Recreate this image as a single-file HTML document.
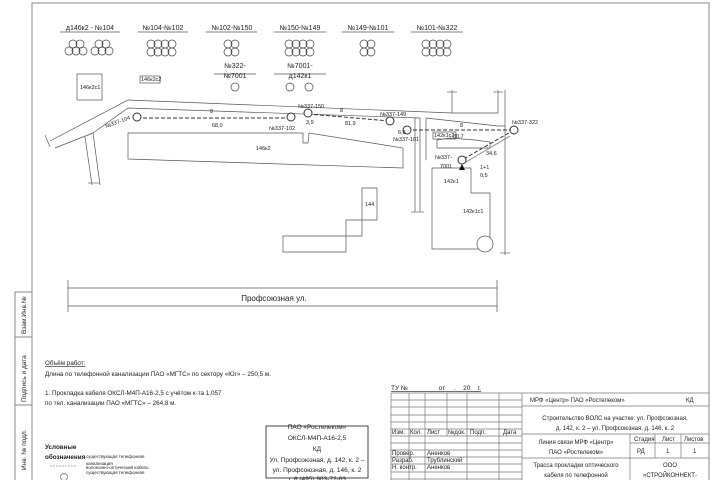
<!DOCTYPE html>
<html><head><meta charset="utf-8"><style>
html,body{margin:0;padding:0;background:#fff}
svg{display:block}
text{font-family:"Liberation Sans",sans-serif;fill:#222}
</style></head><body>
<svg width="720" height="480" viewBox="0 0 720 480" xmlns="http://www.w3.org/2000/svg">
<g stroke="#888" stroke-width="1" fill="none">
<!-- frame -->
<polyline points="32,480 32,3 709,3 709,480"/>
<polyline points="32,292 15,292 15,480"/>
<line x1="15" y1="337" x2="32" y2="337"/>
<line x1="15" y1="405" x2="32" y2="405"/>
</g>
<g font-size="6.5" fill="#333">
<text transform="translate(26,334) rotate(-90)">Взам.Инв.№</text>
<text transform="translate(26,402) rotate(-90)">Подпись и дата</text>
<text transform="translate(26,470) rotate(-90)">Инв. № подл.</text>
</g>

<!-- top labels -->
<g font-size="7" text-anchor="middle">
<text x="90" y="30">д146к2 - №104</text>
<text x="163" y="30">№104-№102</text>
<text x="232" y="30">№102-№150</text>
<text x="300" y="30">№150-№149</text>
<text x="368" y="30">№149-№101</text>
<text x="437" y="30">№101-№322</text>
<text x="235" y="68">№322-</text><text x="235" y="78">№7001</text>
<text x="300" y="68">№7001-</text><text x="300" y="78">д142к1</text>
</g>
<g stroke="#555" stroke-width="0.7" fill="none">
<line x1="60" y1="32" x2="120" y2="32"/><line x1="138" y1="32" x2="188" y2="32"/>
<line x1="206" y1="32" x2="257" y2="32"/><line x1="274" y1="32" x2="326" y2="32"/>
<line x1="342" y1="32" x2="394" y2="32"/><line x1="411" y1="32" x2="463" y2="32"/>
<line x1="214" y1="74" x2="256" y2="74"/><line x1="274" y1="74" x2="326" y2="74"/>
<!-- circle groups -->
<g stroke="#444">
<circle cx="73" cy="44" r="4"/><circle cx="80" cy="44" r="4"/><circle cx="69" cy="51" r="4"/><circle cx="76" cy="51" r="4"/><circle cx="83" cy="51" r="4"/>
<circle cx="99" cy="44" r="4"/><circle cx="106" cy="44" r="4"/><circle cx="95" cy="51" r="4"/><circle cx="102" cy="51" r="4"/><circle cx="109" cy="51" r="4"/>
<circle cx="151" cy="44" r="4"/><circle cx="158" cy="44" r="4"/><circle cx="165" cy="44" r="4"/><circle cx="172" cy="44" r="4"/>
<circle cx="151" cy="52" r="4"/><circle cx="158" cy="52" r="4"/><circle cx="165" cy="52" r="4"/><circle cx="172" cy="52" r="4"/>
<circle cx="228" cy="44" r="4"/><circle cx="235" cy="44" r="4"/><circle cx="228" cy="52" r="4"/><circle cx="235" cy="52" r="4"/>
<circle cx="289" cy="44" r="4"/><circle cx="296" cy="44" r="4"/><circle cx="303" cy="44" r="4"/><circle cx="310" cy="44" r="4"/>
<circle cx="289" cy="52" r="4"/><circle cx="296" cy="52" r="4"/><circle cx="303" cy="52" r="4"/><circle cx="310" cy="52" r="4"/>
<circle cx="364" cy="44" r="4"/><circle cx="371" cy="44" r="4"/><circle cx="364" cy="52" r="4"/><circle cx="371" cy="52" r="4"/>
<circle cx="426" cy="44" r="4"/><circle cx="433" cy="44" r="4"/><circle cx="440" cy="44" r="4"/><circle cx="447" cy="44" r="4"/>
<circle cx="426" cy="52" r="4"/><circle cx="433" cy="52" r="4"/><circle cx="440" cy="52" r="4"/><circle cx="447" cy="52" r="4"/>
<circle cx="235" cy="87" r="4"/><circle cx="290" cy="87" r="4"/><circle cx="309" cy="87" r="4"/>
</g>
<rect x="77" y="74" width="25" height="26"/>
<rect x="140" y="76" width="20" height="7"/>

<!-- roads -->
<polyline points="50,141 128,100 452,113 452,90"/>
<polyline points="498,90 498,113 452,113"/>
<polyline points="55,148 93,133"/>
<polyline points="85,137 92,185"/>
<polyline points="93,133 100,185"/>
<polyline points="93,133 128,108 420,118 420,212"/>
<polyline points="415,118 415,212"/>
<polyline points="426,118 498,126 505,126"/>
<line x1="505" y1="90" x2="505" y2="255"/>
<line x1="426" y1="118" x2="426" y2="160"/>
<!-- ticks -->
<g stroke="#666"><line x1="45" y1="135" x2="50" y2="147"/><line x1="88" y1="183" x2="100" y2="183"/><line x1="411" y1="212" x2="424" y2="212"/>
<line x1="447" y1="92" x2="457" y2="92"/><line x1="493" y1="92" x2="503" y2="92"/><line x1="500" y1="253" x2="510" y2="253"/></g>
<!-- building 146k2 -->
<polygon points="128,133 303,133 303,143 308,143 309,133 403,148 403,168 128,159"/>
<!-- 142k1c2 bar -->
<polygon points="437,140 450,138 475,140 490,142 490,148 437,148"/>
<rect x="433" y="132" width="23" height="7"/>
<!-- 142k1 -->
<polygon points="432,168 471,168 471,193 490,193 490,249 432,249"/>
<circle cx="485" cy="244" r="8" fill="#fff"/>
<!-- 144 -->
<polygon points="362,188 377,188 377,220 362,220 362,236 346,236 346,252 283,252 283,236 346,236 346,220 362,220"/>
<!-- street -->
<line x1="68" y1="288" x2="497" y2="288"/>
<line x1="68" y1="306" x2="497" y2="306"/>
<line x1="68" y1="280" x2="68" y2="312"/>
<line x1="497" y1="280" x2="497" y2="312"/>
</g>
<!-- cable -->
<g stroke="#333" stroke-width="1" fill="none">
<polyline stroke-dasharray="4,2" points="137,118 291,118"/>
<polyline stroke-dasharray="4,2" points="308,114 390,121"/>
<polyline stroke-dasharray="4,2" points="407,130 514,130"/>
<polyline stroke-dasharray="4,2" points="514,130 462,160"/>
<line x1="510" y1="136" x2="466" y2="162" stroke="#888"/>
<g fill="#fff"><circle cx="137" cy="117" r="4"/><circle cx="291" cy="117" r="4"/><circle cx="308" cy="113" r="4"/><circle cx="390" cy="121" r="4"/><circle cx="407" cy="130" r="4"/><circle cx="514" cy="130" r="4"/><circle cx="462" cy="160" r="4"/></g>
</g>
<polygon points="459,170 465,170 462,164" fill="#111"/>
<g font-size="5.5">
<text x="106" y="128" transform="rotate(-20 106 128)">№337-104</text>
<text x="269" y="130">№337-102</text>
<text x="298" y="108">№337-150</text>
<text x="380" y="116">№337-149</text>
<text x="393" y="141">№337-101</text>
<text x="512" y="124">№337-322</text>
<text x="435" y="159">№337-</text><text x="440" y="168">7001</text>
<text x="212" y="127">68,0</text><text x="345" y="125">81,9</text>
<text x="306" y="124">3,9</text><text x="398" y="134">6,8</text>
<text x="453" y="138">80,7</text><text x="486" y="155">34,6</text>
<text x="210" y="113">8</text><text x="340" y="112">8</text><text x="460" y="127">8</text>
<text x="480" y="169">1+1</text><text x="480" y="177">0,5</text>
<text x="80" y="89">146к2с1</text><text x="141" y="81">146к2с2</text>
<text x="256" y="150">146к2</text><text x="434" y="137">142к1с2</text>
<text x="444" y="183">142к1</text><text x="463" y="213">142к1с1</text>
<text x="365" y="206">144</text>
</g>
<text x="274" y="301" font-size="8" text-anchor="middle">Профсоюзная ул.</text>

<!-- notes -->
<g font-size="6.3">
<text x="45" y="365" text-decoration="underline">Объём работ:</text>
<text x="45" y="376">Длина по телефонной канализации ПАО «МГТС» по сектору «Юг»       – 250,5 м.</text>
<text x="45" y="395">1. Прокладка кабеля ОКСЛ-М4П-А16-2,5 с учётом к-та 1,057</text>
<text x="45" y="405">по тел. канализации ПАО «МГТС»       – 264,8 м.</text>
<text x="45" y="449" font-weight="bold">Условные</text>
<text x="45" y="459" font-weight="bold">обозначения</text>
</g>
<g font-size="4.5"><text x="86" y="458">существующая телефонная</text><text x="86" y="465">канализация</text><text x="86" y="469">волоконно-оптический кабель</text><text x="86" y="474">существующая телефонная</text></g>
<line x1="50" y1="466" x2="76" y2="466" stroke="#666" stroke-dasharray="2,1" stroke-width="0.6"/>
<circle cx="64" cy="477" r="3.5" fill="none" stroke="#666" stroke-width="0.7"/>
<!-- stamp -->
<rect x="266" y="426" width="102" height="52" fill="none" stroke="#444" stroke-width="1"/>
<g font-size="6.5" text-anchor="middle">
<text x="317" y="429">ПАО «Ростелеком»</text>
<text x="317" y="440">ОКСЛ-М4П-А16-2,5</text>
<text x="317" y="451">КД</text>
<text x="317" y="462">Ул. Профсоюзная, д. 142, к. 2 –</text>
<text x="317" y="472">ул. Профсоюзная, д. 146, к. 2</text>
<text x="317" y="481">т. 8 (495) 903-72-63</text>
</g>

<!-- title block -->
<g font-size="6.5">
<text x="391" y="390" text-decoration="underline">ТУ №________ от __.__20__г.</text>
</g>
<g stroke="#777" stroke-width="0.7" fill="none">
<line x1="391" y1="393" x2="709" y2="393"/>
<line x1="391" y1="400" x2="522" y2="400"/><line x1="391" y1="407" x2="522" y2="407"/>
<line x1="391" y1="415" x2="522" y2="415"/><line x1="391" y1="422" x2="522" y2="422"/>
<line x1="391" y1="429" x2="522" y2="429"/><line x1="391" y1="436" x2="522" y2="436"/>
<line x1="391" y1="443" x2="522" y2="443"/><line x1="391" y1="450" x2="522" y2="450"/>
<line x1="391" y1="457" x2="522" y2="457"/><line x1="391" y1="464" x2="522" y2="464"/>
<line x1="391" y1="472" x2="522" y2="472"/><line x1="391" y1="479" x2="522" y2="479"/>
<line x1="391" y1="393" x2="391" y2="480"/><line x1="409" y1="393" x2="409" y2="480"/>
<line x1="425" y1="393" x2="425" y2="480"/><line x1="447" y1="393" x2="447" y2="436"/>
<line x1="467" y1="393" x2="467" y2="480"/><line x1="499" y1="393" x2="499" y2="480"/>
<line x1="522" y1="393" x2="522" y2="480"/>
<line x1="522" y1="406" x2="709" y2="406"/><line x1="522" y1="434" x2="709" y2="434"/>
<line x1="522" y1="458" x2="709" y2="458"/>
<line x1="630" y1="434" x2="630" y2="480"/>
<line x1="630" y1="443" x2="709" y2="443"/>
<line x1="655" y1="434" x2="655" y2="458"/><line x1="681" y1="434" x2="681" y2="458"/>
</g>
<g font-size="6">
<text x="392" y="434">Изм.</text><text x="410" y="434">Кол.</text><text x="427" y="434">Лист</text><text x="448" y="434">№док.</text><text x="470" y="434">Подп.</text><text x="503" y="434">Дата</text>
<text x="392" y="455">Провер.</text><text x="427" y="455">Аненков</text>
<text x="392" y="462">Разраб.</text><text x="427" y="462">Трублинский</text>
<text x="392" y="469">Н. контр.</text><text x="427" y="469">Аненков</text>
<text x="530" y="402">МРФ «Центр» ПАО «Ростелеком»</text><text x="686" y="402">КД</text>
<text x="615" y="420" text-anchor="middle">Строительство ВОЛС на участке: ул. Профсоюзная,</text>
<text x="615" y="430" text-anchor="middle">д. 142, к. 2 – ул. Профсоюзная, д. 146, к. 2</text>
<text x="576" y="444" text-anchor="middle">Линия связи МРФ «Центр»</text>
<text x="576" y="454" text-anchor="middle">ПАО «Ростелеком»</text>
<text x="634" y="441">Стадия</text><text x="662" y="441">Лист</text><text x="684" y="441">Листов</text>
<text x="637" y="453">РД</text><text x="666" y="453">1</text><text x="693" y="453">1</text>
<text x="576" y="467" text-anchor="middle">Трасса прокладки оптического</text>
<text x="576" y="477" text-anchor="middle">кабеля по телефонной</text>
<text x="670" y="467" text-anchor="middle">ООО</text>
<text x="670" y="477" text-anchor="middle">«СТРОЙКОННЕКТ-</text>
</g>
</svg>
</body></html>
